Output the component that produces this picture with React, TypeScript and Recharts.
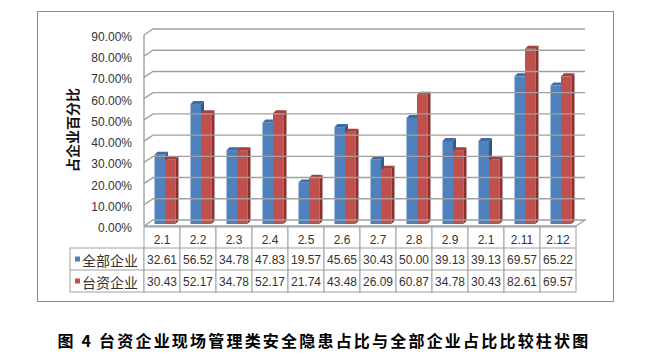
import { Bar, BarChart, XAxis, YAxis } from 'recharts';

const categories = ['2.1', '2.2', '2.3', '2.4', '2.5', '2.6', '2.7', '2.8', '2.9', '2.1', '2.11', '2.12'];
const allEnterprises = [32.61, 56.52, 34.78, 47.83, 19.57, 45.65, 30.43, 50.0, 39.13, 39.13, 69.57, 65.22];
const taiwanEnterprises = [30.43, 52.17, 34.78, 52.17, 21.74, 43.48, 26.09, 60.87, 34.78, 30.43, 82.61, 69.57];
const seriesNames = ['全部企业', '台资企业'];
const yTicks = [0, 10, 20, 30, 40, 50, 60, 70, 80, 90];

const data = categories.map((name, i) => ({
    name,
    all: allEnterprises[i],
    tw: taiwanEnterprises[i],
}));

const W = 648;
const H = 359;
const PLOT_TOP = 35;
const PLOT_BOTTOM = 226;
const PLOT_LEFT = 144;
const PLOT_RIGHT = 576;
const COL = (PLOT_RIGHT - PLOT_LEFT) / categories.length;
const DEPTH_X = 9;
const DEPTH_Y = 6;
const GRID = '#a0a0a0';
const CELL = '#a0a0a0';
const TEXT = '#333';
const BLUE = { front: '#4F81BD', top: '#3D6CA6', side: '#2E5A8E' };
const RED = { front: '#C0504D', top: '#A43F3C', side: '#8A302D' };
const NUM_FONT = '"Liberation Sans", Arial, sans-serif';
const CJK_FONT = '"Noto Sans CJK SC", sans-serif';

function makeBar(colors: { front: string; top: string; side: string }) {
    return (props: any) => {
        const { x, y, width, height } = props;
        if (height == null || height <= 0) return <g />;
        const d = 3;
        const bx = x + 2.5;
        const by = y - 2;
        const h = height;
        return (
            <g>
                <rect x={bx} y={by} width={width} height={h} fill={colors.front} />
                <polygon
                    points={`${bx},${by} ${bx + d},${by - d} ${bx + width + d},${by - d} ${bx + width},${by}`}
                    fill={colors.top}
                />
                <polygon
                    points={`${bx + width},${by} ${bx + width + d},${by - d} ${bx + width + d},${by + h - d} ${bx + width},${by + h}`}
                    fill={colors.side}
                />
            </g>
        );
    };
}

// y tick: label plus the back-wall grid line (3D look)
function YTick(props: any) {
    const { y, payload } = props;
    const x1 = PLOT_LEFT;
    const x2 = PLOT_RIGHT;
    const floor = Number(payload.value) === 0;
    let d = `M${x1},${y} L${x1 + DEPTH_X},${y - DEPTH_Y} L${x2 + DEPTH_X},${y - DEPTH_Y}`;
    if (floor) d += ` L${x2},${y} L${x1},${y}`;
    return (
        <g>
            <path d={d} stroke={GRID} strokeWidth={1.4} fill="none" />
            <text
                x={132}
                y={y + 2}
                textAnchor="end"
                dominantBaseline="central"
                fontFamily={NUM_FONT}
                fontSize={12}
                fill={TEXT}
            >
                {`${Number(payload.value).toFixed(2)}%`}
            </text>
        </g>
    );
}

function TableTick(props: any) {
    const { x, payload, index } = props;
    const i = payload?.index ?? index;
    const left = x - COL / 2;
    const r0 = PLOT_BOTTOM + 1;
    const r1 = 248;
    const r2 = 270;
    const r3 = 292;
    const values = [allEnterprises[i], taiwanEnterprises[i]];
    return (
        <g>
            {i === 0 && (
                <g>
                    <rect x={70} y={r1} width={left - 70} height={r3 - r1} fill="#fff" stroke={CELL} />
                    <line x1={70} y1={r2} x2={left} y2={r2} stroke={CELL} />
                    {seriesNames.map((s, k) => {
                        const cy = k === 0 ? (r1 + r2) / 2 : (r2 + r3) / 2;
                        return (
                            <g key={s}>
                                <rect
                                    x={75}
                                    y={cy - 2.5}
                                    width={5}
                                    height={5}
                                    fill={k === 0 ? BLUE.front : RED.front}
                                />
                                <text
                                    x={82}
                                    y={cy + 1}
                                    dominantBaseline="central"
                                    fontFamily={CJK_FONT}
                                    fontSize={14}
                                    fill={TEXT}
                                >
                                    {s}
                                </text>
                            </g>
                        );
                    })}
                </g>
            )}
            <rect x={left} y={r0} width={COL} height={r3 - r0} fill="#fff" stroke={CELL} />
            <line x1={left} y1={r1} x2={left + COL} y2={r1} stroke={CELL} />
            <line x1={left} y1={r2} x2={left + COL} y2={r2} stroke={CELL} />
            <text
                x={x}
                y={(r0 + r1) / 2 + 2}
                textAnchor="middle"
                dominantBaseline="central"
                fontFamily={NUM_FONT}
                fontSize={12}
                fill={TEXT}
            >
                {payload.value}
            </text>
            {values.map((v, k) => (
                <text
                    key={k}
                    x={x}
                    y={(k === 0 ? (r1 + r2) / 2 : (r2 + r3) / 2) + 1}
                    textAnchor="middle"
                    dominantBaseline="central"
                    fontFamily={NUM_FONT}
                    fontSize={12}
                    fill={TEXT}
                >
                    {v.toFixed(2)}
                </text>
            ))}
        </g>
    );
}

export default function App() {
    return (
        <div style={{ position: 'absolute', left: 0, top: 0, width: W, height: H, background: '#fff' }}>
            <div
                style={{
                    position: 'absolute',
                    left: 37,
                    top: 11,
                    width: 575,
                    height: 289,
                    border: '1px solid #8c8c8c',
                }}
            />
            <div style={{ position: 'absolute', left: 0, top: 0 }}>
                <BarChart
                    width={W}
                    height={H}
                    data={data}
                    margin={{ top: PLOT_TOP, right: W - PLOT_RIGHT, bottom: 0, left: 0 }}
                    barGap={0}
                >
                    <XAxis
                        dataKey="name"
                        height={H - PLOT_BOTTOM}
                        axisLine={false}
                        tickLine={false}
                        interval={0}
                        tick={<TableTick />}
                    />
                    <YAxis
                        width={PLOT_LEFT}
                        domain={[0, 90]}
                        ticks={yTicks}
                        interval={0}
                        axisLine={{ stroke: GRID, strokeWidth: 1.4 }}
                        tickLine={false}
                        tick={<YTick />}
                        label={{
                            content: () => (
                                <text
                                    x={72}
                                    y={130}
                                    transform="rotate(-90 72 130)"
                                    textAnchor="middle"
                                    dominantBaseline="central"
                                    fontFamily={CJK_FONT}
                                    fontWeight={700}
                                    fontSize={14}
                                    fill="#111"
                                >
                                    占企业百分比
                                </text>
                            ),
                        }}
                    />
                    <Bar dataKey="all" name={seriesNames[0]} barSize={10.5} shape={makeBar(BLUE)} isAnimationActive={false} />
                    <Bar dataKey="tw" name={seriesNames[1]} barSize={10.5} shape={makeBar(RED)} isAnimationActive={false} />
                </BarChart>
            </div>
            <div
                style={{
                    position: 'absolute',
                    left: 0,
                    top: 328,
                    width: W,
                    textAlign: 'center',
                    fontFamily: CJK_FONT,
                    fontWeight: 700,
                    fontSize: 16,
                    letterSpacing: 2.2,
                    color: '#000',
                    lineHeight: '24px',
                }}
            >
                图 4 台资企业现场管理类安全隐患占比与全部企业占比比较柱状图
            </div>
        </div>
    );
}
